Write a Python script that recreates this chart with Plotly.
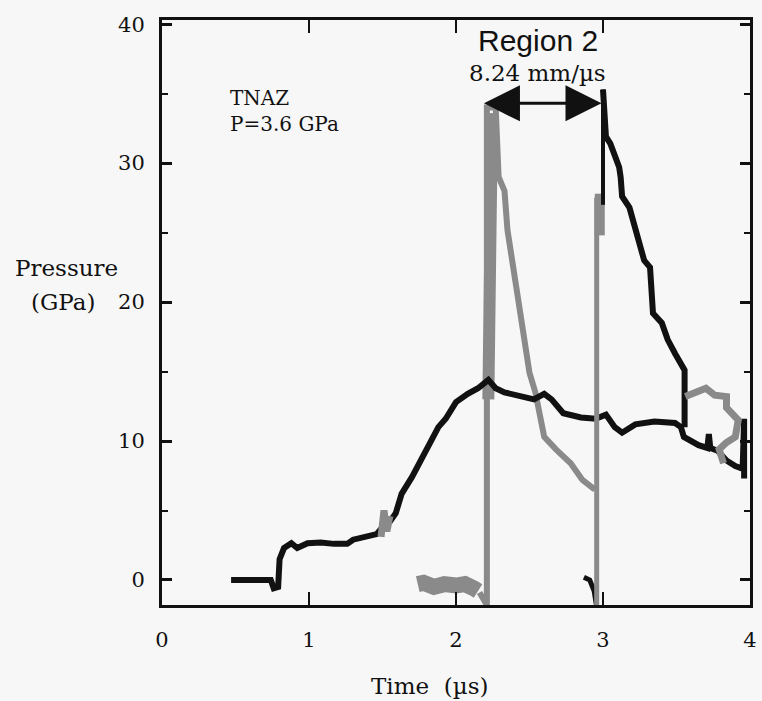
import plotly.graph_objects as go

# ---------------- data ----------------
# gauge 1 (black, slow build-up)
g1_t = [0.47, 0.74, 0.76, 0.79, 0.80, 0.83, 0.88, 0.92, 0.99, 1.08, 1.17, 1.26, 1.30, 1.39,
        1.46, 1.50, 1.55, 1.59, 1.63, 1.70, 1.77, 1.81, 1.88, 1.93, 2.00, 2.08, 2.15, 2.22,
        2.27, 2.33, 2.45, 2.53, 2.60, 2.65, 2.73, 2.85, 2.95, 3.02, 3.08, 3.13, 3.22, 3.35,
        3.49, 3.53, 3.55, 3.65, 3.71, 3.72, 3.73, 3.78, 3.84, 3.90, 3.95, 3.96, 3.96]
g1_p = [0.0, 0.0, -0.6, -0.5, 1.5, 2.3, 2.65, 2.3, 2.65, 2.7, 2.6, 2.6, 2.9, 3.1,
        3.3, 3.8, 4.2, 4.8, 6.2, 7.4, 8.8, 9.8, 11.0, 11.6, 12.8, 13.4, 13.8, 14.4,
        13.8, 13.5, 13.2, 13.0, 13.4, 13.0, 12.0, 11.7, 11.6, 11.9, 11.0, 10.6, 11.2, 11.4,
        11.3, 11.0, 10.3, 9.7, 9.5, 10.5, 9.5, 9.3, 8.6, 8.2, 8.0, 11.6, 7.3]
g1_patch_t = [1.49, 1.51, 1.53, 1.55]
g1_patch_p = [3.1, 5.0, 3.5, 4.6]

# gauge 2 (grey)
g2_noise_t = [1.74, 1.78, 1.85, 1.92, 2.00, 2.06, 2.12, 2.15]
g2_noise_p = [-0.3, -0.2, -0.5, -0.3, -0.4, -0.3, -0.6, -0.8]
g2_t = [2.16, 2.21, 2.21, 2.27, 2.29, 2.33, 2.35, 2.39, 2.42, 2.45, 2.50, 2.54, 2.57,
        2.60, 2.68, 2.78, 2.86, 2.945]
g2_p = [-0.9, -1.8, 34.0, 34.0, 29.0, 28.0, 25.2, 22.5, 20.4, 17.8, 14.9, 13.5, 12.0,
        10.3, 9.4, 8.4, 7.2, 6.5]
g2_band_t = [2.245, 2.24, 2.23, 2.22]
g2_band_p = [33.6, 19.0, 15.0, 13.0]

# gauge 3 (black, Region 2)
g3_pre_t = [2.87, 2.91, 2.94, 2.955]
g3_pre_p = [0.2, 0.0, -0.8, -1.8]
g3_rise_t = [2.957, 2.957]
g3_rise_p = [-1.8, 27.5]
g3_patch_t = [2.978, 2.978]
g3_patch_p = [24.8, 27.8]
g3_front_t = [3.0, 3.0]
g3_front_p = [27.0, 35.3]
g3_t = [3.00, 3.01, 3.02, 3.05, 3.08, 3.11, 3.12, 3.13, 3.18, 3.21, 3.24, 3.28, 3.32,
        3.33, 3.34, 3.40, 3.44, 3.49, 3.53, 3.555, 3.555]
g3_p = [35.3, 33.6, 31.9, 31.4, 30.4, 29.7, 29.0, 27.6, 26.8, 25.7, 24.5, 23.0, 22.5,
        21.1, 19.2, 18.5, 17.3, 16.3, 15.6, 15.1, 11.0]
loop_t = [3.56, 3.62, 3.70, 3.76, 3.84, 3.84, 3.88, 3.92, 3.90, 3.84, 3.79, 3.82]
loop_p = [13.2, 13.5, 13.8, 13.3, 13.2, 12.4, 12.0, 11.5, 10.3, 9.9, 9.4, 8.4]

arrow_t = [2.18, 2.99]
arrow_p = 34.3

x_ticks = [0, 1, 2, 3, 4]
y_ticks = [0, 10, 20, 30, 40]

BLACK = "#111111"
GREY = "#8a8a8a"
SERIF = "DejaVu Serif"

fig = go.Figure()


def add(t, p, color, width):
    fig.add_trace(go.Scatter(x=t, y=p, mode="lines", line=dict(color=color, width=width),
                             hoverinfo="skip", showlegend=False))


add(g2_noise_t, g2_noise_p, GREY, 16)
add(g2_band_t, g2_band_p, GREY, 12)
add(g2_t, g2_p, GREY, 6)
add(g1_t, g1_p, BLACK, 6)
add(g1_patch_t, g1_patch_p, GREY, 7)
add(g3_pre_t, g3_pre_p, BLACK, 5)
add(g3_rise_t, g3_rise_p, GREY, 5)
add(g3_patch_t, g3_patch_p, GREY, 10)
add(g3_front_t, g3_front_p, BLACK, 4)
add(g3_t, g3_p, BLACK, 6)
add(loop_t, loop_p, GREY, 7)

# double arrow
fig.add_annotation(x=arrow_t[1], y=arrow_p, ax=arrow_t[0], ay=arrow_p, xref="x", yref="y",
                   axref="x", ayref="y", text="", showarrow=True, arrowhead=2,
                   arrowside="end+start", arrowsize=2.4, arrowwidth=3, arrowcolor=BLACK)

fig.add_annotation(x=2.555, y=38.8, xref="x", yref="y", text="Region 2", showarrow=False,
                   font=dict(family="Liberation Sans", size=30, color=BLACK))
fig.add_annotation(x=2.555, y=36.5, xref="x", yref="y", text="8.24 mm/µs", showarrow=False,
                   font=dict(family=SERIF, size=23, color=BLACK))
fig.add_annotation(x=0.45, y=34.7, xref="x", yref="y", text="TNAZ",
                   showarrow=False, xanchor="left",
                   font=dict(family=SERIF, size=20, color=BLACK))
fig.add_annotation(x=0.45, y=32.8, xref="x", yref="y", text="P=3.6 GPa",
                   showarrow=False, xanchor="left",
                   font=dict(family=SERIF, size=20, color=BLACK))
fig.add_annotation(x=(65 - 162) / 595, y=(580 - 268) / 13.9, xref="paper", yref="y",
                   text="Pressure", showarrow=False, xanchor="center",
                   font=dict(family=SERIF, size=23, color=BLACK))
fig.add_annotation(x=(62 - 162) / 595, y=20, xref="paper", yref="y",
                   text="(GPa)", showarrow=False, xanchor="center",
                   font=dict(family=SERIF, size=23, color=BLACK))
fig.add_annotation(x=(433 - 162) / 595, y=-(686 - 605) / 585, xref="paper", yref="paper",
                   text="Time  (µs)", showarrow=False, xanchor="center", yanchor="middle",
                   font=dict(family=SERIF, size=23, color=BLACK))

fig.update_layout(
    width=762, height=701,
    margin=dict(l=162, r=5, t=20, b=96),
    paper_bgcolor="#f7f7f7", plot_bgcolor="#f7f7f7",
    showlegend=False,
)
fig.update_xaxes(range=[0, 4], tickvals=x_ticks, ticktext=[str(v) for v in x_ticks],
                 ticks="inside", ticklen=13, tickwidth=2, tickcolor=BLACK,
                 showline=True, linewidth=3, linecolor=BLACK, mirror="ticks",
                 showgrid=False, zeroline=False, ticklabelstandoff=14,
                 tickfont=dict(family=SERIF, size=21, color=BLACK))
fig.update_yaxes(range=[-1.8, 40.3], tickvals=y_ticks, ticktext=[str(v) for v in y_ticks],
                 ticks="inside", ticklen=10, tickwidth=3, tickcolor=BLACK,
                 minor=dict(dtick=5, tick0=0, ticks="inside", ticklen=6, tickwidth=2,
                            tickcolor=BLACK),
                 showline=True, linewidth=3, linecolor=BLACK, mirror="ticks",
                 showgrid=False, zeroline=False, ticklabelstandoff=10,
                 tickfont=dict(family=SERIF, size=21, color=BLACK))

fig.write_html("out.html")
